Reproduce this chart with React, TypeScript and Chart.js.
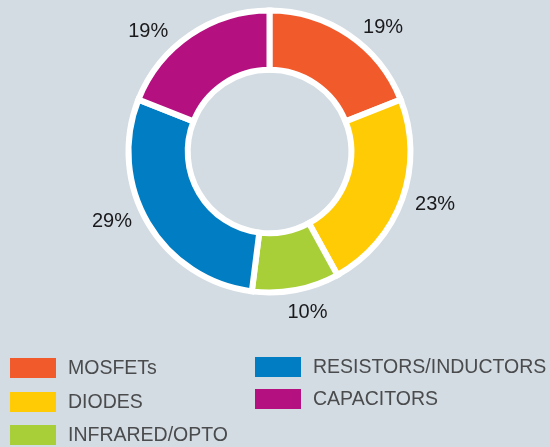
import React, { useEffect, useRef } from "react";
import { Chart, registerables } from "chart.js";

Chart.register(...registerables);

const categories = ["MOSFETs", "DIODES", "INFRARED/OPTO", "RESISTORS/INDUCTORS", "CAPACITORS"];
const shares = [19, 23, 10, 29, 19];
const sliceColors = ["#f15a2b", "#ffcb05", "#a8cf38", "#007dc3", "#b5107f"];
// label placement tweaks (degrees, px beyond outer radius)
const labelAngleNudge = [8.2, -1.9, -2.5, 6.5, -11];
const labelRadiusPad = [27.5, 33, 24, 31.6, 30];
// legend columns: index lists
const legendColumns = [[0, 1, 2], [3, 4]];

const BG = "#d3dce3";
const FONT = '"Liberation Sans", Arial, Helvetica, sans-serif';

const labelPlugin = {
  id: "outerLabels",
  afterDatasetsDraw(chart: any) {
    const ctx = chart.ctx;
    const meta = chart.getDatasetMeta(0);
    ctx.save();
    ctx.fillStyle = "#1a1a1c";
    ctx.font = `20px ${FONT}`;
    ctx.textAlign = "center";
    ctx.textBaseline = "middle";
    meta.data.forEach((arc: any, i: number) => {
      const p = arc.getProps(["x", "y", "startAngle", "endAngle", "outerRadius"], true);
      const mid = (p.startAngle + p.endAngle) / 2 + (labelAngleNudge[i] * Math.PI) / 180;
      const r = p.outerRadius + labelRadiusPad[i];
      ctx.fillText(`${shares[i]}%`, p.x + r * Math.cos(mid), p.y + r * Math.sin(mid));
    });
    ctx.restore();
  },
};

const legendPlugin = {
  id: "customLegend",
  afterDraw(chart: any) {
    const ctx = chart.ctx;
    ctx.save();
    ctx.font = `19.5px ${FONT}`;
    ctx.textBaseline = "middle";
    ctx.textAlign = "left";
    const colX = [10, 255];
    const rowY = [[368, 402, 435], [367, 399]];
    legendColumns.forEach((col, c) => {
      col.forEach((idx, r) => {
        const y = rowY[c][r];
        ctx.fillStyle = sliceColors[idx];
        ctx.fillRect(colX[c], y - 10, 46, 20);
        ctx.fillStyle = "#4a4b4d";
        ctx.fillText(categories[idx], colX[c] + 58, y + 1);
      });
    });
    ctx.restore();
  },
};

export default function App() {
  const ref = useRef<HTMLCanvasElement>(null);
  useEffect(() => {
    document.body.style.margin = "0";
    document.body.style.background = BG;
    const chart = new Chart(ref.current!, {
      type: "doughnut",
      data: {
        labels: categories,
        datasets: [
          {
            data: shares,
            backgroundColor: sliceColors,
            borderColor: "#ffffff",
            borderWidth: 6,
            borderJoinStyle: "miter",
          } as any,
        ],
      },
      options: {
        responsive: false,
        animation: false,
        cutout: "58%",
        layout: { padding: { left: 125.5, right: 136.5, top: 7.5, bottom: 151.5 } },
        plugins: { legend: { display: false }, tooltip: { enabled: false } },
      },
      plugins: [labelPlugin, legendPlugin],
    });
    return () => chart.destroy();
  }, []);
  return (
    <div style={{ position: "absolute", left: 0, top: 0, width: 550, height: 447, background: BG }}>
      <canvas ref={ref} width={550} height={447} />
    </div>
  );
}
